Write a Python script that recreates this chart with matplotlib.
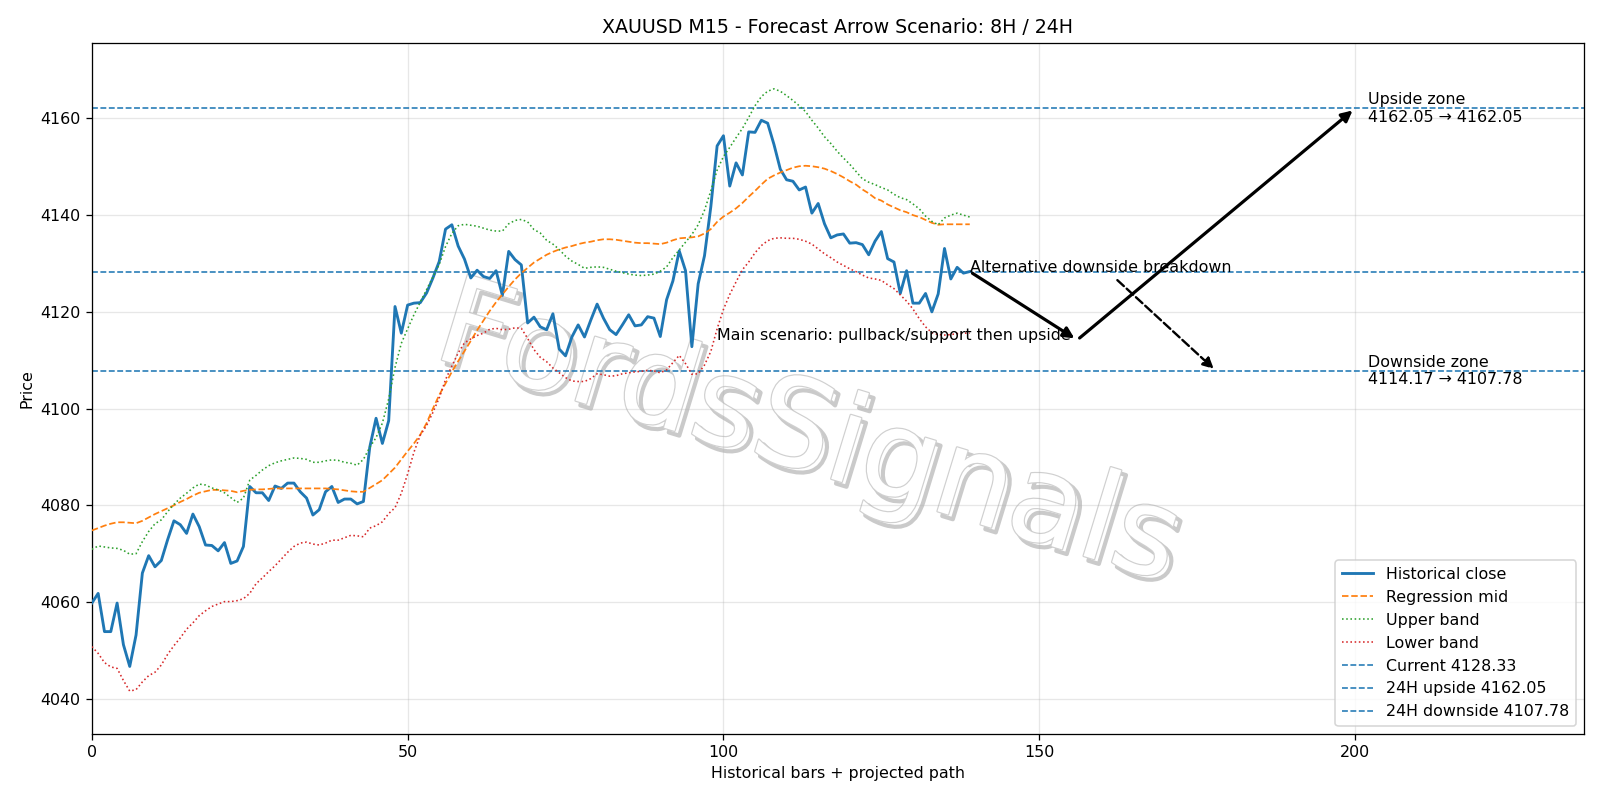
import numpy as np
import matplotlib
matplotlib.use("Agg")
import matplotlib.pyplot as plt
import matplotlib.patheffects as pe

close = [
    4059.8, 4061.8, 4053.9, 4053.9, 4059.8, 4051.2, 4046.7, 4053.2, 4066.0, 4069.6,
    4067.3, 4068.6, 4072.9, 4076.8, 4076.0, 4074.2, 4078.2, 4075.6, 4071.8, 4071.7,
    4070.6, 4072.3, 4068.0, 4068.5, 4071.5, 4083.9, 4082.6, 4082.6, 4081.0, 4084.0,
    4083.5, 4084.6, 4084.6, 4082.8, 4081.5, 4078.0, 4079.1, 4082.8, 4083.9, 4080.6,
    4081.3, 4081.3, 4080.3, 4080.8, 4092.0, 4098.0, 4092.8, 4097.5, 4121.1, 4115.6,
    4121.4, 4121.8, 4121.9, 4123.9, 4127.0, 4130.4, 4137.1, 4138.0, 4133.6, 4130.9,
    4127.0, 4128.6, 4127.3, 4126.9, 4128.5, 4123.4, 4132.5, 4130.8, 4129.7, 4117.7,
    4118.9, 4116.9, 4116.3, 4119.6, 4112.3, 4110.9, 4114.8, 4117.3, 4114.8, 4118.3,
    4121.6, 4118.7, 4116.3, 4115.3, 4117.3, 4119.4, 4117.1, 4117.3, 4119.0, 4118.7,
    4114.9, 4122.5, 4126.4, 4132.6, 4128.5, 4112.8, 4125.8, 4131.6, 4141.7, 4154.3,
    4156.4, 4146.0, 4150.8, 4148.3, 4157.2, 4157.1, 4159.6, 4159.0, 4154.6, 4149.5,
    4147.3, 4147.0, 4145.2, 4145.8, 4140.4, 4142.4, 4138.2, 4135.3, 4135.9, 4136.1,
    4134.2, 4134.3, 4133.9, 4131.8, 4134.6, 4136.6, 4131.0, 4130.3, 4123.8, 4128.5,
    4121.8, 4121.8, 4123.8, 4120.0, 4123.7, 4133.1, 4126.8, 4129.2, 4128.0, 4128.33,
]

mid = [
    4074.8, 4075.3, 4075.8, 4076.2, 4076.5, 4076.5, 4076.4, 4076.3, 4076.8, 4077.5,
    4078.2, 4078.8, 4079.4, 4080.0, 4080.7, 4081.3, 4082.0, 4082.6, 4082.9, 4083.2,
    4083.2, 4083.1, 4083.0, 4082.7, 4083.0, 4083.2, 4083.3, 4083.3, 4083.4, 4083.5,
    4083.5, 4083.5, 4083.5, 4083.5, 4083.5, 4083.5, 4083.5, 4083.5, 4083.4, 4083.3,
    4083.1, 4082.9, 4082.8, 4082.8, 4083.6, 4084.4, 4085.2, 4086.5, 4087.8, 4089.5,
    4091.2, 4092.8, 4094.6, 4097.0, 4100.0, 4102.8, 4105.2, 4107.6, 4109.8, 4111.9,
    4114.0, 4116.2, 4118.2, 4120.2, 4122.0, 4123.6, 4125.2, 4126.7, 4128.0, 4129.1,
    4130.2, 4131.0, 4131.8, 4132.4, 4132.9, 4133.3, 4133.6, 4134.0, 4134.3, 4134.5,
    4134.8, 4135.0, 4135.0, 4134.9, 4134.7, 4134.5, 4134.3, 4134.2, 4134.2, 4134.1,
    4134.0, 4134.3, 4134.8, 4135.2, 4135.3, 4135.4, 4135.6, 4136.2, 4137.1, 4138.6,
    4139.7, 4140.5, 4141.4, 4142.5, 4143.8, 4145.0, 4146.3, 4147.5, 4148.2, 4148.8,
    4149.3, 4149.8, 4150.1, 4150.2, 4150.1, 4149.9, 4149.6, 4149.1, 4148.5, 4147.8,
    4147.0, 4146.3, 4145.3, 4144.5, 4143.5, 4143.0, 4142.2, 4141.6, 4141.0, 4140.6,
    4140.0, 4139.6, 4139.0, 4138.4, 4138.0, 4138.1, 4138.1, 4138.1, 4138.1, 4138.1,
]

upper = [
    4070.9, 4071.6, 4071.4, 4071.2, 4071.1, 4070.7, 4069.9, 4070.0, 4072.5, 4074.6,
    4076.2, 4077.0, 4078.7, 4080.2, 4081.5, 4082.5, 4083.6, 4084.4, 4084.2, 4083.6,
    4083.2, 4082.6, 4081.6, 4080.6, 4081.5, 4085.2, 4086.2, 4087.3, 4088.2, 4088.8,
    4089.2, 4089.5, 4089.8, 4089.7, 4089.5, 4088.9, 4088.9, 4089.2, 4089.4, 4089.3,
    4088.9, 4088.7, 4088.3, 4089.5, 4092.0, 4094.0, 4097.0, 4102.0, 4108.5, 4113.5,
    4116.5, 4119.4, 4122.0, 4124.6, 4127.2, 4129.8, 4133.5, 4136.2, 4137.8, 4138.1,
    4137.9, 4137.7, 4137.3, 4136.9, 4136.7, 4136.7, 4138.2, 4138.9, 4139.1, 4138.6,
    4137.0, 4136.3, 4134.8, 4134.0, 4132.9, 4131.5, 4130.5, 4129.8, 4129.0, 4129.2,
    4129.3, 4129.2, 4128.8, 4128.4, 4128.1, 4127.8, 4127.6, 4127.5, 4127.6, 4127.8,
    4128.4, 4129.3, 4131.2, 4132.8, 4134.4, 4136.0, 4138.0, 4141.0, 4145.0, 4149.3,
    4152.1, 4154.0, 4156.0, 4157.9, 4160.2, 4162.6, 4164.5, 4165.6, 4166.1, 4165.6,
    4164.7, 4163.7, 4162.6, 4161.4, 4159.6, 4158.0, 4156.2, 4154.8, 4153.2, 4151.8,
    4150.5, 4149.0, 4147.5, 4146.8, 4146.3, 4145.7, 4145.2, 4144.3, 4143.6, 4143.2,
    4142.3, 4141.3, 4139.8, 4138.7, 4138.0, 4139.4, 4140.0, 4140.4, 4140.0, 4139.6,
]

lower = [
    4050.8, 4049.4, 4047.5, 4046.6, 4046.3, 4043.8, 4041.6, 4041.9, 4043.5, 4044.8,
    4045.5, 4047.0, 4049.2, 4051.0, 4052.6, 4054.4, 4055.7, 4057.2, 4058.2, 4059.1,
    4059.6, 4060.1, 4060.1, 4060.3, 4060.7, 4061.8, 4063.8, 4065.0, 4066.3, 4067.5,
    4068.9, 4070.3, 4071.5, 4072.2, 4072.4, 4072.0, 4071.8, 4072.2, 4072.8, 4072.8,
    4073.3, 4073.8, 4073.7, 4073.5, 4075.3, 4075.8, 4076.6, 4078.3, 4079.5, 4082.5,
    4086.5, 4091.0, 4094.5, 4096.5, 4099.2, 4102.2, 4106.0, 4108.8, 4111.5, 4113.6,
    4114.4, 4115.1, 4115.6, 4116.4, 4116.6, 4116.3, 4116.4, 4116.7, 4116.6, 4114.5,
    4112.2, 4110.6, 4109.7, 4108.4, 4107.4, 4106.4, 4105.7, 4105.6, 4105.6, 4106.2,
    4107.2, 4107.0, 4106.7, 4106.8, 4107.2, 4107.4, 4107.6, 4107.7, 4107.9, 4107.8,
    4107.4, 4108.0, 4109.5, 4111.0, 4109.3, 4107.1, 4107.2, 4109.0, 4111.8, 4116.5,
    4120.5, 4123.6, 4126.2, 4128.7, 4130.3, 4132.2, 4133.7, 4134.7, 4135.2, 4135.3,
    4135.2, 4135.2, 4135.0, 4134.6, 4134.0, 4133.0, 4132.0, 4131.2, 4130.3, 4129.6,
    4128.9, 4128.3, 4127.6, 4127.0, 4126.8, 4126.5, 4125.6, 4124.8, 4123.5, 4122.2,
    4120.6, 4118.6, 4116.9, 4115.7, 4115.3, 4115.2, 4115.3, 4115.5, 4115.6, 4115.6,
]

current_price = 4128.33
upside_24h = 4162.05
downside_24h = 4107.78
pullback_level = 4114.17
pullback_bar = 156
upside_bar = 200
alt_start = (162, 4127.0)
alt_end_bar = 178

title = "XAUUSD M15 - Forecast Arrow Scenario: 8H / 24H"
watermark = "FordsSignals"

fig = plt.figure(figsize=(14, 7), dpi=1600 / 14)
ax = fig.add_axes([0.0574, 0.0829, 0.9898 - 0.0574, 0.9464 - 0.0829])

x = np.arange(len(close))
ax.text(0.48, 0.43, watermark, transform=ax.transAxes, fontsize=77,
        rotation=-17, ha="center", va="center", color="white", zorder=1,
        path_effects=[pe.SimpleLineShadow(offset=(3, -3), shadow_color="#8a8a8a", alpha=0.45,
                                          linewidth=2.6),
                      pe.Stroke(linewidth=1.5, foreground="#d0d0d0"), pe.Normal()])

ax.plot(x, close, color="C0", lw=1.8, label="Historical close", zorder=3)
ax.plot(x, mid, color="C1", ls="--", lw=1.1, label="Regression mid", zorder=3)
ax.plot(x, upper, color="C2", ls=":", lw=1.0, label="Upper band", zorder=3)
ax.plot(x, lower, color="C3", ls=":", lw=1.0, label="Lower band", zorder=3)
ax.axhline(current_price, color="C0", ls="--", lw=1, label=f"Current {current_price:.2f}")
ax.axhline(upside_24h, color="C0", ls="--", lw=1, label=f"24H upside {upside_24h:.2f}")
ax.axhline(downside_24h, color="C0", ls="--", lw=1, label=f"24H downside {downside_24h:.2f}")

last_bar = len(close) - 1
aprops = dict(arrowstyle="-|>", lw=2.0, color="black", mutation_scale=14)
ax.annotate("", xy=(pullback_bar, pullback_level), xytext=(last_bar, close[-1]),
            arrowprops=aprops, zorder=4)
ax.annotate("", xy=(upside_bar, upside_24h), xytext=(pullback_bar, pullback_level),
            arrowprops=aprops, zorder=4)
ax.annotate("", xy=(alt_end_bar, downside_24h), xytext=alt_start,
            arrowprops=dict(arrowstyle="-|>", lw=1.5, color="black", ls="--", mutation_scale=14),
            zorder=4)

ax.text(pullback_bar - 1.0, pullback_level, "Main scenario: pullback/support then upside",
        ha="right", va="baseline", fontsize=10, zorder=5)
ax.text(last_bar, current_price, "Alternative downside breakdown",
        ha="left", va="baseline", fontsize=10, zorder=5)
ax.text(202, upside_24h, f"Upside zone\n{upside_24h:.2f} \u2192 {upside_24h:.2f}",
        ha="left", va="center", fontsize=10, zorder=5)
ax.text(202, downside_24h, f"Downside zone\n{pullback_level:.2f} \u2192 {downside_24h:.2f}",
        ha="left", va="center", fontsize=10, zorder=5)

ax.set_xlim(0, 236.2)
ax.set_ylim(4032.8, 4175.6)
ax.grid(True, alpha=0.3)
ax.set_title(title, fontsize=12)
ax.set_xlabel("Historical bars + projected path")
ax.set_ylabel("Price")
ax.legend(loc="lower right")

fig.savefig("out.png", dpi=1600 / 14)
